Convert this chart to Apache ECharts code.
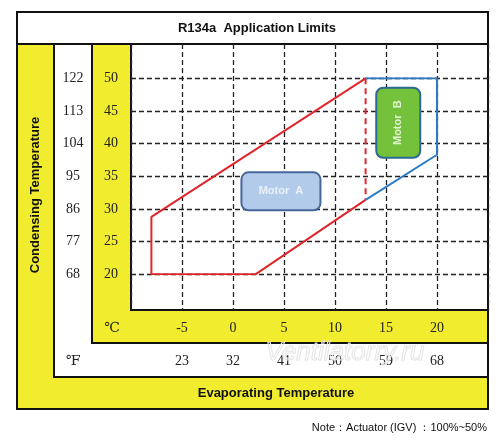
<!DOCTYPE html>
<html>
<head>
<meta charset="utf-8">
<script src="https://cdn.jsdelivr.net/npm/echarts@6/dist/echarts.min.js"></script>
<style>
  html, body { margin: 0; padding: 0; background: #fff; }
  #chart { width: 500px; height: 440px; }
</style>
</head>
<body>
<div id="chart"></div>
<script>
// tick labels
var evapC = [-5, 0, 5, 10, 15, 20];
var evapF = ['23', '32', '41', '50', '59', '68'];
var condC = [20, 25, 30, 35, 40, 45, 50];
var condF = ['68', '77', '86', '95', '104', '113', '122'];

// envelope outlines (evaporating C, condensing C)
var motorAEdge = [[13, 31.4], [2.2, 20], [-8, 20], [-8, 28.8], [13, 50]];
var motorASplit = [[13, 50], [13, 31.4]];
var motorBEdge = [[13, 50], [20, 50], [20, 38.3], [13, 31.4]];

// label boxes
var motorNames = ['Motor  A', 'Motor  B'];
var motorPos = [[4.7, 32.7], [16.2, 43.2]];

var YEL = '#f1ec2e';
var serif = "'Liberation Serif','DejaVu Serif',serif";
var sans = "'Liberation Sans',Arial,sans-serif";

var chart = echarts.init(document.getElementById('chart'));

function lookup(ticks, labels) {
    return function (v) {
        var i = ticks.indexOf(v);
        return i >= 0 ? String(labels[i]) : '';
    };
}

var boxStyle = [
    { w: 79, h: 38, fill: '#b3cbea', stroke: '#46679a', text: '#e9f0fa', rot: 0 },
    { w: 44, h: 70, fill: '#74c23c', stroke: '#2d6a90', text: '#e2f4d0', rot: Math.PI / 2 }
];

var option = {
    animation: false,
    backgroundColor: '#fff',
    graphic: [
        { type: 'rect', z: -5, shape: { x: 17, y: 12, width: 471, height: 32 }, style: { fill: '#fff', stroke: '#111', lineWidth: 2 } },
        { type: 'rect', z: -5, shape: { x: 17, y: 44, width: 471, height: 365 }, style: { fill: YEL, stroke: '#111', lineWidth: 2 } },
        { type: 'rect', z: -5, shape: { x: 54, y: 44, width: 434, height: 333 }, style: { fill: '#fff', stroke: '#111', lineWidth: 2 } },
        { type: 'rect', z: -5, shape: { x: 92, y: 44, width: 396, height: 299 }, style: { fill: YEL, stroke: '#111', lineWidth: 2 } },
        { type: 'rect', z: -5, shape: { x: 131, y: 44, width: 357, height: 266 }, style: { fill: '#fff', stroke: '#111', lineWidth: 2 } },
        { type: 'text', z: 10, x: 257, y: 28, style: { text: 'R134a  Application Limits', font: 'bold 13px ' + sans, fill: '#111', align: 'center', verticalAlign: 'middle' } },
        { type: 'text', z: 10, x: 35, y: 195, rotation: Math.PI / 2, style: { text: 'Condensing Temperature', font: 'bold 13px ' + sans, fill: '#111', align: 'center', verticalAlign: 'middle' } },
        { type: 'text', z: 10, x: 276, y: 393, style: { text: 'Evaporating Temperature', font: 'bold 13px ' + sans, fill: '#111', align: 'center', verticalAlign: 'middle' } },
        { type: 'text', z: 10, x: 112, y: 328, style: { text: '℃', font: '14px ' + serif, fill: '#222', align: 'center', verticalAlign: 'middle' } },
        { type: 'text', z: 10, x: 73, y: 361, style: { text: '℉', font: '14px ' + serif, fill: '#222', align: 'center', verticalAlign: 'middle' } },
        { type: 'text', z: 10, x: 345, y: 353, style: { text: 'Ventilatorry.ru', font: 'italic 26px ' + sans, fill: 'rgba(255,255,255,0.2)', stroke: '#e2e2e2', lineWidth: 1, align: 'center', verticalAlign: 'middle' } },
        { type: 'text', z: 10, x: 487, y: 428, style: { text: 'Note：Actuator (IGV) ：100%~50%', font: '11px ' + sans, fill: '#111', align: 'right', verticalAlign: 'middle' } }
    ],
    grid: [
        { left: 131, top: 44, width: 357, height: 266 },
        { left: 131, top: 78.3, width: 357, height: 196 }
    ],
    xAxis: [
        {
            gridIndex: 0, type: 'value', min: -10, max: 25, interval: 5,
            axisLine: { show: false }, axisTick: { show: false },
            splitLine: { show: true, lineStyle: { color: '#222', type: [5, 3], width: 1.3 } },
            axisLabel: { margin: 11, fontFamily: serif, fontSize: 14, color: '#222', formatter: lookup(evapC, evapC) }
        },
        {
            gridIndex: 0, type: 'value', min: -10, max: 25, interval: 5, offset: 33, position: 'bottom',
            axisLine: { show: false }, axisTick: { show: false }, splitLine: { show: false },
            axisLabel: { margin: 11, fontFamily: serif, fontSize: 14, color: '#222', formatter: lookup(evapC, evapF) }
        },
        {
            gridIndex: 1, type: 'value', min: -10, max: 25, show: false
        }
    ],
    yAxis: [
        { gridIndex: 0, type: 'value', min: 0, max: 1, show: false },
        {
            gridIndex: 1, type: 'value', min: 20, max: 50, interval: 5,
            axisLine: { show: false }, axisTick: { show: false },
            splitLine: { show: true, lineStyle: { color: '#222', type: [5, 3], width: 1.3 } },
            axisLabel: { margin: 20, align: 'center', fontFamily: serif, fontSize: 14, color: '#222', formatter: lookup(condC, condC) }
        },
        {
            gridIndex: 1, type: 'value', min: 20, max: 50, interval: 5, position: 'left', offset: 38,
            axisLine: { show: false }, axisTick: { show: false }, splitLine: { show: false },
            axisLabel: { margin: 20, align: 'center', fontFamily: serif, fontSize: 14, color: '#222', formatter: lookup(condC, condF) }
        }
    ],
    series: [
        {
            type: 'line', xAxisIndex: 2, yAxisIndex: 1, data: motorAEdge, symbol: 'none', z: 3,
            lineStyle: { color: '#e1262b', width: 2 }
        },
        {
            type: 'line', xAxisIndex: 2, yAxisIndex: 1, data: motorASplit, symbol: 'none', z: 3,
            lineStyle: { color: '#e1262b', width: 2, type: [6, 4] }
        },
        {
            type: 'line', xAxisIndex: 2, yAxisIndex: 1, data: motorBEdge, symbol: 'none', z: 3,
            lineStyle: { color: '#2b7cc4', width: 2 }
        },
        {
            type: 'custom', xAxisIndex: 2, yAxisIndex: 1, z: 4,
            data: motorPos,
            renderItem: function (params, api) {
                var c = api.coord([api.value(0), api.value(1)]);
                var s = boxStyle[params.dataIndex];
                return {
                    type: 'group',
                    children: [
                        {
                            type: 'rect',
                            shape: { x: c[0] - s.w / 2, y: c[1] - s.h / 2, width: s.w, height: s.h, r: 7 },
                            style: { fill: s.fill, stroke: s.stroke, lineWidth: 2 }
                        },
                        {
                            type: 'text', x: c[0], y: c[1], rotation: s.rot,
                            style: { text: motorNames[params.dataIndex], font: 'bold 11px ' + sans, fill: s.text, align: 'center', verticalAlign: 'middle' }
                        }
                    ]
                };
            }
        }
    ]
};

chart.setOption(option);
</script>
</body>
</html>
